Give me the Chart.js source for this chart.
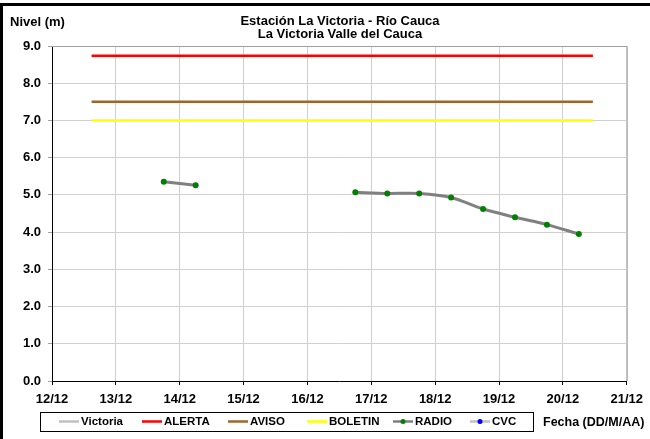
<!DOCTYPE html>
<html>
<head>
<meta charset="utf-8">
<script src="https://cdn.jsdelivr.net/npm/chart.js@4"></script>
<style>
  html, body { margin: 0; padding: 0; background: #fff; }
  #wrap { width: 650px; height: 439px; }
</style>
</head>
<body>
<div id="wrap"><canvas id="canvas" width="650" height="439"></canvas></div>
<script>
// day of December (fractional) and level in metres
const radioDays = [13.75, 14.25, null, 16.75, 17.25, 17.75, 18.25, 18.75, 19.25, 19.75, 20.25];
const radioLevels = [5.35, 5.26, null, 5.07, 5.04, 5.04, 4.93, 4.62, 4.40, 4.20, 3.95];

const limitDays = [12.62, 20.47];
const alerta = 8.74;
const aviso = 7.5;
const boletin = 7.0;

const dayTicks = [12, 13, 14, 15, 16, 17, 18, 19, 20, 21];

const font = "'Liberation Sans', Arial, sans-serif";

function pts(xs, ys) {
  return xs.map((x, i) => ({ x: x === null ? 15.5 : x, y: ys[i] }));
}
function flat(v) {
  return limitDays.map(d => ({ x: d, y: v }));
}

const frame = {
  id: 'frame',
  beforeDraw(chart) {
    const c = chart.ctx;
    c.save();
    c.fillStyle = '#fff';
    c.fillRect(0, 0, chart.width, chart.height);
    c.restore();
  },
  afterDraw(chart) {
    const c = chart.ctx;
    const a = chart.chartArea;
    c.save();
    // plot frame top / right
    c.strokeStyle = '#a0a0a0';
    c.lineWidth = 1;
    c.beginPath();
    c.moveTo(a.left, a.top + 0.5);
    c.lineTo(a.right + 0.5, a.top + 0.5);
    c.lineTo(a.right + 0.5, a.bottom);
    c.stroke();

    // outer border
    c.fillStyle = '#000';
    c.fillRect(0, 3, chart.width, 3);
    c.fillRect(0, 3, 3, chart.height);

    // texts
    c.fillStyle = '#000';
    c.font = 'bold 13px ' + font;
    c.textBaseline = 'middle';
    c.textAlign = 'center';
    c.fillText('Estación La Victoria - Río Cauca', 340, 21);
    c.fillText('La Victoria Valle del Cauca', 340, 34);
    c.textAlign = 'left';
    c.fillText('Nivel (m)', 10, 22);
    c.font = 'bold 12.5px ' + font;
    c.fillText('Fecha (DD/M/AA)', 543, 423);

    // legend
    const lx = 40, ly = 412, lw = 493, lh = 19;
    c.strokeStyle = '#000';
    c.lineWidth = 1;
    c.strokeRect(lx + 0.5, ly + 0.5, lw, lh);
    const items = [
      { label: 'Victoria', x: 59, line: '#c0c0c0' },
      { label: 'ALERTA', x: 142, line: '#ff0000' },
      { label: 'AVISO', x: 228, line: '#a0642d' },
      { label: 'BOLETIN', x: 307, line: '#ffff00' },
      { label: 'RADIO', x: 393, line: '#808080', dot: '#008000' },
      { label: 'CVC', x: 470, line: '#c0c0c0', dot: '#0000ff' }
    ];
    c.font = 'bold 11.5px ' + font;
    const my = 421.5;
    items.forEach(it => {
      c.strokeStyle = it.line;
      c.lineWidth = 2.5;
      c.beginPath();
      c.moveTo(it.x, my);
      c.lineTo(it.x + 20, my);
      c.stroke();
      if (it.dot) {
        c.fillStyle = it.dot;
        c.beginPath();
        c.arc(it.x + 10, my, 2.5, 0, Math.PI * 2);
        c.fill();
      }
      c.fillStyle = '#000';
      c.fillText(it.label, it.x + 22, my);
    });
    c.restore();
  }
};

const ctx = document.getElementById('canvas').getContext('2d');
new Chart(ctx, {
  type: 'line',
  data: {
    datasets: [
      { label: 'Victoria', data: [], borderColor: '#c0c0c0', borderWidth: 2.5, pointRadius: 0 },
      { label: 'ALERTA', data: flat(alerta), borderColor: '#ff0000', borderWidth: 2.5, pointRadius: 0 },
      { label: 'AVISO', data: flat(aviso), borderColor: '#a0642d', borderWidth: 2.5, pointRadius: 0 },
      { label: 'BOLETIN', data: flat(boletin), borderColor: '#ffff00', borderWidth: 2.5, pointRadius: 0 },
      {
        label: 'RADIO', data: pts(radioDays, radioLevels), borderColor: '#808080', borderWidth: 3,
        pointRadius: 3, pointBackgroundColor: '#008000', pointBorderColor: '#008000', pointBorderWidth: 0,
        tension: 0.3, spanGaps: false
      },
      { label: 'CVC', data: [], borderColor: '#c0c0c0', pointBackgroundColor: '#0000ff', borderWidth: 2.5 }
    ]
  },
  plugins: [frame],
  options: {
    responsive: false,
    animation: false,
    layout: { padding: { top: 46, right: 22, left: 0, bottom: 0 } },
    plugins: {
      legend: { display: false },
      title: { display: false },
      tooltip: { enabled: false }
    },
    scales: {
      x: {
        type: 'linear',
        min: 12,
        max: 21,
        afterBuildTicks: s => { s.ticks = dayTicks.map(v => ({ value: v })); },
        afterFit: s => { s.height = 58; },
        ticks: {
          callback: v => v + '/12',
          color: '#000',
          font: { family: font, size: 13, weight: 'bold' },
          padding: 7,
          maxRotation: 0
        },
        grid: { color: '#d0d0d0', tickColor: '#000', tickLength: 4, lineWidth: 1 },
        border: { color: '#000', width: 1 }
      },
      y: {
        min: 0,
        max: 9,
        afterFit: s => { s.width = 52; },
        ticks: {
          stepSize: 1,
          callback: v => v.toFixed(1),
          color: '#000',
          font: { family: font, size: 13, weight: 'bold' },
          padding: 7
        },
        grid: { color: '#d0d0d0', tickColor: '#a0a0a0', tickLength: 4, lineWidth: 1 },
        border: { color: '#000', width: 1 }
      }
    }
  }
});
</script>
</body>
</html>
